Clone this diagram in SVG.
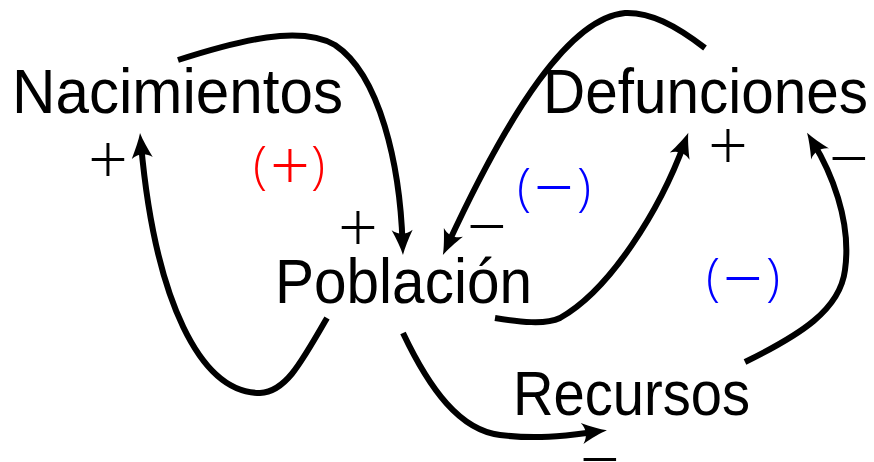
<svg xmlns="http://www.w3.org/2000/svg" width="874" height="462" viewBox="0 0 874 462">
<style>
.node{font-family:"Liberation Sans",Arial,sans-serif;font-size:63px;fill:#000}
.sign{font-family:"Open Sans","Liberation Sans",sans-serif;font-weight:300;font-size:70px;fill:#000;text-anchor:middle}
.loop{font-family:"Open Sans","Liberation Sans",sans-serif;font-weight:300;font-size:52px;text-anchor:middle}
.op{font-size:70px}
.pos{fill:#ff0000}
.neg{fill:#0000ff}
.edge{fill:none;stroke:#000;stroke-width:6;marker-end:url(#arr)}
</style>
<defs>
<marker id="arr" markerUnits="userSpaceOnUse" orient="auto" refX="0" refY="0" markerWidth="40" markerHeight="30" viewBox="-20 -15 40 30" overflow="visible">
<path d="M11,0 C4,-2 -5,-6 -14,-10.5 C-9,-4 -9,4 -14,10.5 C-5,6 4,2 11,0 Z" fill="#000"/>
</marker>
</defs>
<g id="nacimientos"><text class="node" x="12" y="113" textLength="331" lengthAdjust="spacingAndGlyphs">Nacimientos</text></g>
<g id="defunciones"><text class="node" x="543" y="113" textLength="325" lengthAdjust="spacingAndGlyphs">Defunciones</text></g>
<g id="poblacion"><text class="node" x="275" y="303" textLength="257" lengthAdjust="spacingAndGlyphs">Población</text></g>
<g id="recursos"><text class="node" x="513" y="415" textLength="237" lengthAdjust="spacingAndGlyphs">Recursos</text></g>
<g id="connectors">
<path class="edge" d="M178,60 C240,40 300,25 335,45 C380,75 400,165 402.6,244"/>
<path class="edge" d="M327,318 C300,365 285,392 260,393 C200,393 155,300 141,144"/>
<path class="edge" d="M705,48 C675,25 650,12 625,13 C570,18 510,110 447.5,245"/>
<path class="edge" d="M495,318 C520,322 545,325 560,318 C610,290 660,210 684.5,143"/>
<path class="edge" d="M403,333 C430,390 460,430 500,435 C540,440 570,435 596,431.7"/>
<path class="edge" d="M745,362 C800,335 840,310 845,270 C852,220 830,170 812.8,142"/>
</g>
<g id="labels">
<text class="sign" x="108" y="184">+</text>
<text class="sign" x="358" y="252">+</text>
<text class="sign" x="487" y="251">−</text>
<text class="sign" x="728" y="170">+</text>
<text class="sign" x="849" y="183">−</text>
<text class="sign" x="600" y="484">−</text>
<text class="loop pos"><tspan x="260" y="183">(</tspan><tspan class="op" x="290" y="190">+</tspan><tspan x="318" y="183">)</tspan></text>
<text class="loop neg"><tspan x="524" y="205">(</tspan><tspan class="op" x="554" y="212">−</tspan><tspan x="584" y="205">)</tspan></text>
<text class="loop neg"><tspan x="713" y="295">(</tspan><tspan class="op" x="743" y="303">−</tspan><tspan x="773" y="295">)</tspan></text>
</g>
</svg>
